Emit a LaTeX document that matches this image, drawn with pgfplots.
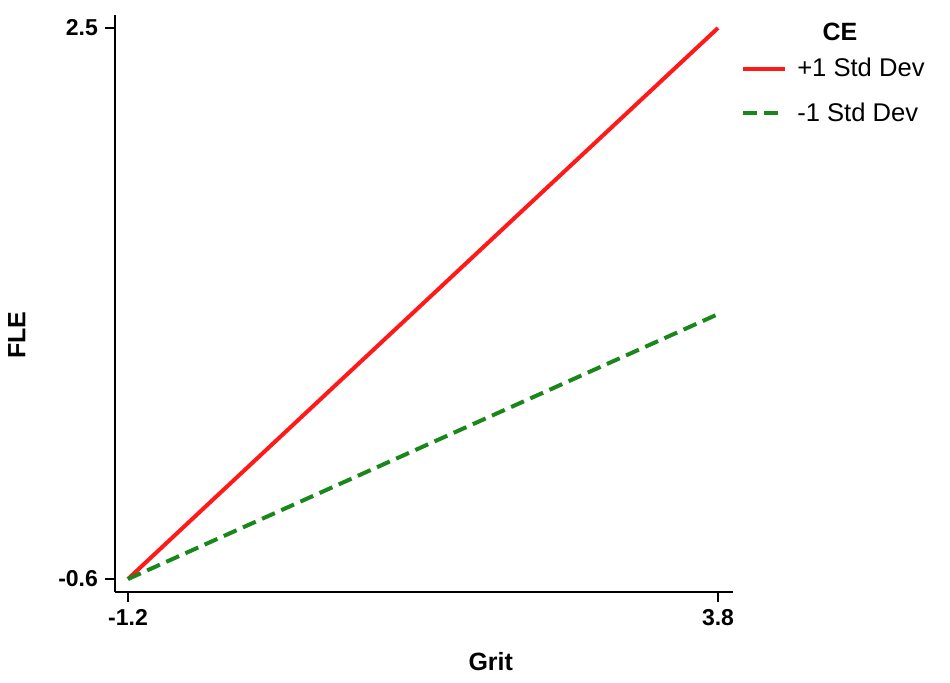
\documentclass[border=0pt]{standalone}
\usepackage{fontspec}
\setmainfont{Liberation Sans}
\usepackage{pgfplots}
\pgfplotsset{compat=1.18}
\definecolor{hiline}{RGB}{255,25,25}
\definecolor{loline}{RGB}{25,135,25}

\begin{document}
\begin{tikzpicture}
\begin{axis}[
    name=ax,
    at={(0,0)}, anchor=south west,
    scale only axis,
    width=309pt, height=288.5pt,
    xmin=-1.31, xmax=3.927,
    ymin=-0.673, ymax=2.573,
    axis lines*=left,
    axis line style={line width=1.4pt, black},
    xtick={-1.2,3.8}, xticklabels={-1.2,3.8},
    ytick={-0.6,2.5}, yticklabels={-0.6,2.5},
    tick align=outside,
    major tick length=5pt,
    tick style={line width=1.4pt, black},
    ticklabel style={font=\bfseries\fontsize{11.5}{13}\selectfont},
    xlabel={Grit},
    ylabel={FLE},
    label style={font=\bfseries\fontsize{12.5}{14}\selectfont},
    xlabel style={at={(axis description cs:0.608,-0.121)}, anchor=center},
    ylabel style={at={(axis description cs:-0.159,0.445)}, anchor=center, rotate=0},
    legend style={draw=none, fill=none, at={(axis description cs:1.003,0.94)},
        anchor=north west, font=\fontsize{12.8}{14}\selectfont,
        row sep=7.5pt,
        /tikz/every odd column/.append style={column sep=3pt}},
    legend cell align=left,
    legend image code/.code={\draw[#1] (0pt,0pt) -- (21pt,0pt);},
    clip=false,
]

% +1 Std Dev
\addplot[hiline, line width=2pt] coordinates {(-1.2,-0.6) (3.8,2.5)};
\addlegendentry{+1 Std Dev}

% -1 Std Dev
\addplot[loline, line width=2pt, dash pattern=on 7pt off 3.5pt] coordinates {(-1.2,-0.6) (3.8,0.89)};
\addlegendentry{-1 Std Dev}

\node[font=\bfseries\fontsize{12.5}{14}\selectfont] at (axis description cs:1.173,0.970) {CE};

\end{axis}
\pgfresetboundingbox
\path (-57.5pt,-45pt) rectangle (417.5pt,296pt);
\end{tikzpicture}
\end{document}
